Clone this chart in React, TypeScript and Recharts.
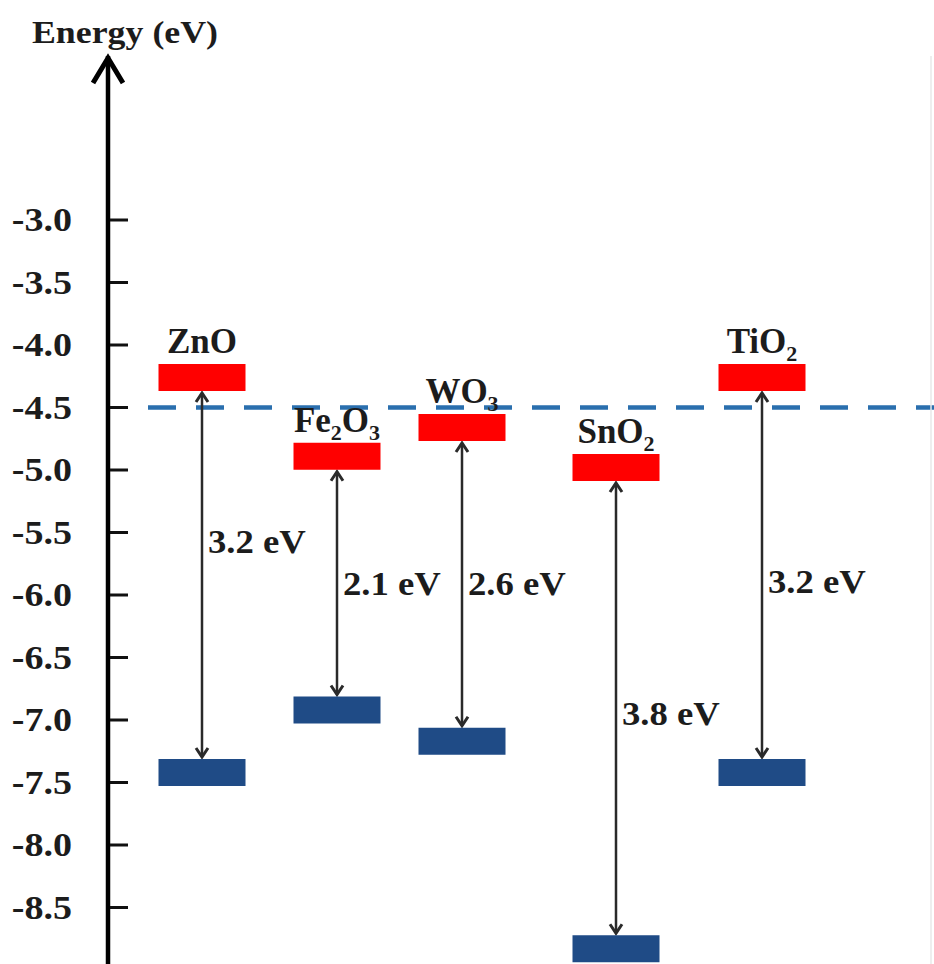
import React from 'react';
import { ScatterChart, Scatter, XAxis, YAxis, ReferenceLine, ReferenceDot } from 'recharts';

// band edges (eV)
const materials = ['ZnO', 'Fe2O3', 'WO3', 'SnO2', 'TiO2'];
const conductionBand = [-4.26, -4.89, -4.66, -4.98, -4.26];
const valenceBand = [-7.42, -6.92, -7.17, -8.83, -7.42];
const gapLabels = ['3.2 eV', '2.1 eV', '2.6 eV', '3.8 eV', '3.2 eV'];
const gapLabelY = [-5.66, -6.0, -6.0, -7.04, -5.98];
const yTicks = [-8.5, -8.0, -7.5, -7.0, -6.5, -6.0, -5.5, -5.0, -4.5, -4.0, -3.5, -3.0];
const referenceLevel = -4.5;

// horizontal slot of each material (x axis is 0..8.26, hidden)
const slots = [0.94, 2.29, 3.54, 5.08, 6.54];

const WIDTH = 934;
const HEIGHT = 964;
const BAR_W = 87;
const BAR_H = 27;
const FONT = '"Liberation Serif", "Times New Roman", serif';
const TEXT_COLOR = '#1c1c1c';

const cbPoints = materials.map((name, i) => ({ x: slots[i], y: conductionBand[i], name }));
const vbPoints = materials.map((name, i) => ({ x: slots[i], y: valenceBand[i], name }));

// the original lettering is a bit wider than Liberation Serif, so stretch it sideways
const WideText = ({ x, y, sx = 1.1, size, anchor = 'start', children }: any) => (
  <text
    transform={`translate(${x},${y}) scale(${sx},1)`}
    x={0}
    y={0}
    textAnchor={anchor}
    fontSize={size}
    fontWeight="bold"
    fontFamily={FONT}
    fill={TEXT_COLOR}
  >
    {children}
  </text>
);

const Formula = ({ x, y, text }: { x: number; y: number; text: string }) => {
  const parts = text.match(/[A-Za-z]+|\d+/g) || [];
  return (
    <text x={x} y={y} textAnchor="middle" fontFamily={FONT} fontWeight="bold" fill={TEXT_COLOR}>
      {parts.map((p, i) => {
        const isSub = /\d/.test(p);
        const prevSub = i > 0 && /\d/.test(parts[i - 1]);
        return isSub ? (
          <tspan key={i} fontSize={22} dy={8}>{p}</tspan>
        ) : (
          <tspan key={i} fontSize={35} dy={prevSub ? -8 : 0}>{p}</tspan>
        );
      })}
    </text>
  );
};

const ConductionShape = (props: any) => {
  const { cx, cy, payload } = props;
  return (
    <g>
      <rect x={cx - BAR_W / 2} y={cy - BAR_H / 2} width={BAR_W} height={BAR_H} fill="#ff0000" />
      <Formula x={cx} y={cy - BAR_H / 2 - 11} text={payload.name} />
    </g>
  );
};

const ValenceShape = (props: any) => {
  const { cx, cy } = props;
  return <rect x={cx - BAR_W / 2} y={cy - BAR_H / 2} width={BAR_W} height={BAR_H} fill="#1f4b86" />;
};

const GapArrow = (props: any) => {
  const { x1, y1, y2 } = props;
  const top = y1 + BAR_H / 2;
  const bottom = y2 - BAR_H / 2;
  return (
    <g stroke="#2a2a2a" fill="none" strokeLinejoin="miter">
      <line x1={x1} y1={top + 2} x2={x1} y2={bottom - 2} strokeWidth={2.5} />
      <polyline points={`${x1 - 6},${top + 11} ${x1},${top + 2} ${x1 + 6},${top + 11}`} strokeWidth={3} />
      <polyline points={`${x1 - 6},${bottom - 11} ${x1},${bottom - 2} ${x1 + 6},${bottom - 11}`} strokeWidth={3} />
    </g>
  );
};

const EnergyTick = (props: any) => {
  const { x, y, payload } = props;
  return (
    <g>
      <line x1={x + 2} y1={y} x2={x + 20} y2={y} stroke="#111" strokeWidth={3} />
      <WideText x={x - 36} y={y + 11} sx={1.12} size={34} anchor="end">
        {Number(payload.value).toFixed(1)}
      </WideText>
    </g>
  );
};

const AxisHead = (props: any) => {
  const { cx, cy } = props;
  return (
    <g>
      <polyline
        points={`${cx - 15},${cy + 27} ${cx},${cy + 2} ${cx + 15},${cy + 27}`}
        stroke="#000"
        strokeWidth={5}
        fill="none"
      />
      <WideText x={cx + 17} y={cy - 13} sx={1.12} size={32} anchor="middle">
        Energy (eV)
      </WideText>
    </g>
  );
};

export default function App() {
  return (
    <div style={{ position: 'absolute', left: 0, top: 0, width: WIDTH, height: HEIGHT, background: '#fff' }}>
      <ScatterChart width={WIDTH} height={HEIGHT} margin={{ top: 56, right: 0, bottom: 0, left: 0 }}>
        <XAxis type="number" dataKey="x" domain={[0, 8.26]} hide allowDataOverflow />
        <YAxis
          type="number"
          dataKey="y"
          width={108}
          domain={[-8.952, -1.688]}
          allowDataOverflow
          ticks={yTicks}
          interval={0}
          tickSize={0}
          tickMargin={0}
          tickLine={false}
          tick={<EnergyTick />}
          axisLine={{ stroke: '#000', strokeWidth: 4.5 }}
        />
        <ReferenceLine
          segment={[{ x: 0.4, y: referenceLevel }, { x: 8.26, y: referenceLevel }]}
          stroke="#2a6fae"
          strokeWidth={4.5}
          strokeDasharray="28 20"
        />
        <ReferenceLine x={8.23} stroke="#e8e8e8" strokeWidth={1.5} />
        {materials.map((m, i) => (
          <ReferenceLine
            key={`arrow-${m}`}
            segment={[{ x: slots[i], y: conductionBand[i] }, { x: slots[i], y: valenceBand[i] }]}
            shape={<GapArrow />}
          />
        ))}
        <Scatter data={cbPoints} shape={<ConductionShape />} isAnimationActive={false} />
        <Scatter data={vbPoints} shape={<ValenceShape />} isAnimationActive={false} />
        {materials.map((m, i) => (
          <ReferenceDot
            key={`gap-${m}`}
            x={slots[i]}
            y={gapLabelY[i]}
            r={0}
            ifOverflow="visible"
            shape={(p: any) => (
              <WideText x={p.cx + 6} y={p.cy} sx={1.08} size={34}>
                {gapLabels[i]}
              </WideText>
            )}
          />
        ))}
        <ReferenceDot x={0} y={-1.688} r={0} ifOverflow="visible" shape={<AxisHead />} />
      </ScatterChart>
    </div>
  );
}
